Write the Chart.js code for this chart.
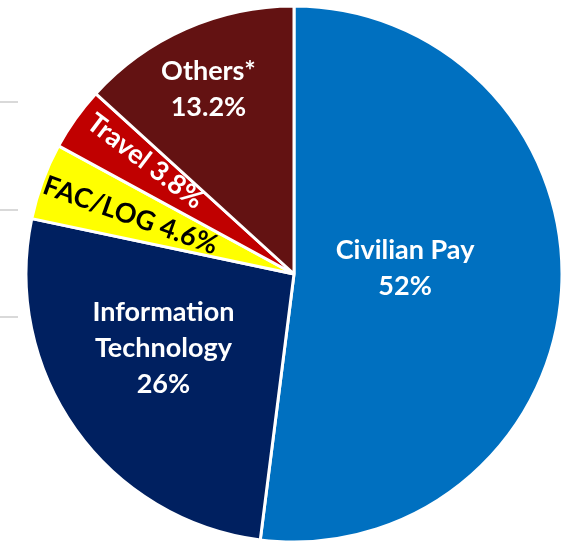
<!DOCTYPE html>
<html>
<head>
<meta charset="utf-8">
<script src="https://cdn.jsdelivr.net/npm/chart.js@4.4.1/dist/chart.umd.min.js"></script>
<style>
  html, body { margin: 0; padding: 0; background: #ffffff; }
  #wrap { width: 562px; height: 543px; position: relative; }
</style>
</head>
<body>
<div id="wrap"><canvas id="c" width="562" height="543"></canvas></div>
<script>
// ---- data ----
const categories = ['Civilian Pay', 'Information Technology', 'FAC/LOG', 'Travel', 'Others*'];
const shares = [51.8, 26.2, 4.6, 3.8, 13.2];
const shareLabels = ['52%', '26%', '4.6%', '3.8%', '13.2%'];
const labelLines = [['Civilian Pay'], ['Information', 'Technology'], ['FAC/LOG'], ['Travel'], ['Others*']];
const sliceColors = ['#0070C0', '#002060', '#FFFF00', '#C00000', '#631212'];

// ---- label styling (per slice) ----
const labelStyle = [
  { f: 0.415, color: '#ffffff', inline: false, rotate: false, dAng: -0.117 },
  { f: 0.56, color: '#ffffff', inline: false, rotate: false, dAng: 0.103 },
  { f: 0.648, color: '#000000', inline: true, rotate: true, dAng: -0.01 },
  { f: 0.696, color: '#ffffff', inline: true, rotate: true, dAng: 0.03 },
  { f: 0.76, color: '#ffffff', inline: false, rotate: false, dAng: -0.017 }
];
const FONT = 'bold 27px Lato, "Open Sans", sans-serif';
const LINE_H = 36;

const sliceLabels = {
  id: 'sliceLabels',
  afterDatasetsDraw(chart) {
    const ctx = chart.ctx;
    const meta = chart.getDatasetMeta(0);
    meta.data.forEach((arc, i) => {
      const p = arc.getProps(['x', 'y', 'startAngle', 'endAngle', 'outerRadius'], true);
      const st = labelStyle[i];
      const mid = (p.startAngle + p.endAngle) / 2 + st.dAng;
      const r = p.outerRadius * st.f;
      const cx = p.x + Math.cos(mid) * r;
      const cy = p.y + Math.sin(mid) * r;
      ctx.save();
      ctx.font = FONT;
      ctx.fillStyle = st.color;
      ctx.textAlign = 'center';
      ctx.textBaseline = 'middle';
      ctx.translate(cx, cy);
      if (st.rotate) ctx.rotate(mid + Math.PI);
      let lines;
      if (st.inline) {
        lines = [labelLines[i].join(' ') + ' ' + shareLabels[i]];
      } else {
        lines = labelLines[i].concat([shareLabels[i]]);
      }
      const n = lines.length;
      lines.forEach((t, k) => {
        ctx.fillText(t, 0, (k - (n - 1) / 2) * LINE_H);
      });
      ctx.restore();
    });
  }
};

const sideTicks = {
  id: 'sideTicks',
  beforeDraw(chart) {
    const ctx = chart.ctx;
    ctx.save();
    ctx.strokeStyle = '#d9d9d9';
    ctx.lineWidth = 2;
    [102, 210, 317].forEach(y => {
      ctx.beginPath();
      ctx.moveTo(0, y);
      ctx.lineTo(18, y);
      ctx.stroke();
    });
    ctx.restore();
  }
};

new Chart(document.getElementById('c'), {
  type: 'pie',
  data: {
    labels: categories,
    datasets: [{
      data: shares,
      backgroundColor: sliceColors,
      borderColor: '#ffffff',
      borderWidth: 3,
      hoverBorderWidth: 3,
      hoverOffset: 0
    }]
  },
  options: {
    responsive: false,
    animation: false,
    devicePixelRatio: 1,
    radius: 268,
    layout: { padding: { left: 26, top: 6, right: 0, bottom: 1 } },
    plugins: {
      legend: { display: false },
      tooltip: { enabled: false },
      title: { display: false }
    }
  },
  plugins: [sideTicks, sliceLabels]
});
</script>
</body>
</html>
